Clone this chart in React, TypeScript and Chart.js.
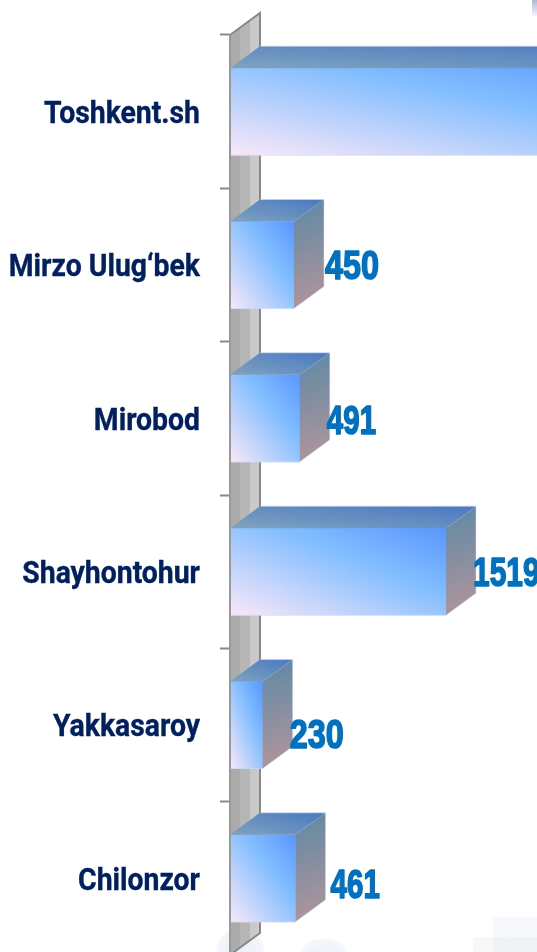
import React, { useEffect, useRef } from "react";
import { Chart, registerables } from "chart.js";

Chart.register(...registerables);

const categories = ["Toshkent.sh", "Mirzo Ulug‘bek", "Mirobod", "Shayhontohur", "Yakkasaroy", "Chilonzor"];
const values = [3151, 450, 491, 1519, 230, 461];

// Layout only: nudges and horizontal squeeze of the value labels relative to the right end of each 3D bar
const labelDx = [1, 1, -3, -3, -3, 5];
const labelDy = [0, 3, 4, 3, 12, 8];
const labelSqueeze = [0.76, 0.79, 0.72, 0.73, 0.79, 0.72];

const DEPTH_X = 30;
const DEPTH_Y = 22;
const BAR_H = 87;

function diag(ctx: CanvasRenderingContext2D, x: number, y: number, w: number, h: number, stops: [number, string][]) {
  const cx = x + w / 2;
  const cy = y + h / 2;
  const n = Math.hypot(w, h);
  const nx = h / n;
  const ny = -w / n;
  const d = (w * h) / n;
  const g = ctx.createLinearGradient(cx - nx * d, cy - ny * d, cx + nx * d, cy + ny * d);
  stops.forEach(([o, c]) => g.addColorStop(o, c));
  return g;
}

const frontStops: [number, string][] = [[0, "#FAE8F8"], [0.62, "#80BDFF"], [1, "#5A96FF"]];
const topStops: [number, string][] = [[0, "#7FA3BF"], [1, "#4A78C2"]];

const wall3d = {
  id: "wall3d",
  beforeDraw(chart: any) {
    const { ctx, chartArea: a } = chart;
    const l = a.left;
    const b = a.bottom;
    const t = a.top;
    const poly = (x0: number, x1: number, color: string) => {
      const f0 = (x0 - l) / DEPTH_X;
      const f1 = (x1 - l) / DEPTH_X;
      ctx.fillStyle = color;
      ctx.beginPath();
      ctx.moveTo(x0, t - f0 * DEPTH_Y);
      ctx.lineTo(x1, t - f1 * DEPTH_Y);
      ctx.lineTo(x1, b - f1 * DEPTH_Y);
      ctx.lineTo(x0, b - f0 * DEPTH_Y);
      ctx.closePath();
      ctx.fill();
    };
    ctx.save();
    poly(l, l + 10, "rgba(166,166,166,0.95)");
    poly(l + 10, l + 20, "rgba(178,178,178,0.95)");
    poly(l + 20, l + DEPTH_X, "rgba(198,198,198,0.95)");
    ctx.strokeStyle = "#888888";
    ctx.lineWidth = 2;
    ctx.beginPath();
    ctx.moveTo(l, t);
    ctx.lineTo(l + DEPTH_X, t - DEPTH_Y);
    ctx.lineTo(l + DEPTH_X, b - DEPTH_Y);
    ctx.lineTo(l, b);
    ctx.stroke();
    ctx.restore();
  },
};

const bars3d = {
  id: "bars3d",
  afterDatasetsDraw(chart: any) {
    const { ctx, chartArea } = chart;
    const meta = chart.getDatasetMeta(0);
    ctx.save();
    meta.data.forEach((bar: any) => {
      const x0 = bar.base;
      const x1 = bar.x;
      const yTop = bar.y - BAR_H / 2;
      const yBot = bar.y + BAR_H / 2;
      // top face
      ctx.fillStyle = diag(ctx, x0, yTop - DEPTH_Y, x1 - x0 + DEPTH_X, DEPTH_Y, topStops);
      ctx.beginPath();
      ctx.moveTo(x0, yTop);
      ctx.lineTo(x0 + DEPTH_X, yTop - DEPTH_Y);
      ctx.lineTo(x1 + DEPTH_X, yTop - DEPTH_Y);
      ctx.lineTo(x1, yTop);
      ctx.closePath();
      ctx.fill();
      // side face
      const sg = ctx.createLinearGradient(x1, yTop - DEPTH_Y / 2, x1 + DEPTH_X, yBot - DEPTH_Y / 2);
      sg.addColorStop(0, "#668AA4");
      sg.addColorStop(1, "#AC949C");
      ctx.fillStyle = sg;
      ctx.beginPath();
      ctx.moveTo(x1, yTop);
      ctx.lineTo(x1 + DEPTH_X, yTop - DEPTH_Y);
      ctx.lineTo(x1 + DEPTH_X, yBot - DEPTH_Y);
      ctx.lineTo(x1, yBot);
      ctx.closePath();
      ctx.fill();
      // pale outline
      ctx.strokeStyle = "rgba(205,222,245,0.55)";
      ctx.lineWidth = 1;
      ctx.beginPath();
      ctx.moveTo(x0 + DEPTH_X, yTop - DEPTH_Y);
      ctx.lineTo(x1 + DEPTH_X, yTop - DEPTH_Y);
      ctx.lineTo(x1 + DEPTH_X, yBot - DEPTH_Y);
      ctx.lineTo(x1, yBot);
      ctx.lineTo(x0, yBot);
      ctx.stroke();
    });
    // axis line stays in front of the bar bases
    ctx.strokeStyle = "#999999";
    ctx.lineWidth = 2;
    ctx.beginPath();
    ctx.moveTo(chartArea.left, chartArea.top);
    ctx.lineTo(chartArea.left, chartArea.bottom);
    ctx.stroke();
    ctx.restore();
  },
};

const textLabels = {
  id: "textLabels",
  afterDraw(chart: any) {
    const { ctx, scales } = chart;
    const meta = chart.getDatasetMeta(0);
    ctx.save();
    // category labels, condensed horizontally
    categories.forEach((c, i) => {
      const y = scales.y.getPixelForValue(i);
      ctx.save();
      ctx.translate(200, y + 3.5);
      ctx.scale(0.9, 1);
      ctx.font = "700 31.5px Roboto";
      ctx.textAlign = "right";
      ctx.textBaseline = "middle";
      ctx.fillStyle = "#002060";
      ctx.strokeStyle = "#002060";
      ctx.lineWidth = 0.35;
      ctx.strokeText(c, 0, 0);
      ctx.fillText(c, 0, 0);
      ctx.restore();
    });
    // value labels
    values.forEach((v, i) => {
      const bar = meta.data[i];
      ctx.save();
      ctx.translate(bar.x + DEPTH_X + labelDx[i], bar.y + labelDy[i]);
      ctx.scale(labelSqueeze[i], 1);
      ctx.font = "700 41px 'Liberation Sans'";
      ctx.textAlign = "left";
      ctx.textBaseline = "middle";
      ctx.fillStyle = "#0070C0";
      ctx.strokeStyle = "#0070C0";
      ctx.lineWidth = 1.6;
      ctx.lineJoin = "round";
      ctx.strokeText(String(v), 0, 0);
      ctx.fillText(String(v), 0, 0);
      ctx.restore();
    });
    ctx.restore();
  },
};

const backdrop = [
  "radial-gradient(circle 25px at 240px 952px, rgba(190,205,230,0.3), rgba(190,205,230,0.2) 90%, transparent 100%)",
  "radial-gradient(ellipse 23px 14px at 324px 952px, rgba(195,210,235,0.28), rgba(195,210,235,0.18) 90%, transparent 100%)",
  "linear-gradient(rgba(200,210,225,0.16), rgba(200,210,225,0.16)) 493px 917px / 44px 35px no-repeat",
  "linear-gradient(rgba(205,205,205,0.14), rgba(205,205,205,0.14)) 473px 937px / 64px 15px no-repeat",
  "linear-gradient(rgba(150,165,200,0.8), rgba(220,225,240,0.3)) 532px 0px / 5px 16px no-repeat",
  "#ffffff",
].join(", ");

export default function App() {
  const ref = useRef<HTMLCanvasElement | null>(null);

  useEffect(() => {
    if (!ref.current) return;
    const chart = new Chart(ref.current, {
      type: "bar",
      data: {
        labels: categories,
        datasets: [
          {
            data: values,
            barThickness: BAR_H,
            borderWidth: 0,
            backgroundColor: (c: any) => {
              const ch = c.chart;
              if (!ch.chartArea || c.dataIndex === undefined) return "#80BDFF";
              const x0 = ch.scales.x.getPixelForValue(0);
              const x1 = ch.scales.x.getPixelForValue(values[c.dataIndex]);
              const y = ch.scales.y.getPixelForValue(c.dataIndex);
              return diag(ch.ctx, x0, y - BAR_H / 2, x1 - x0, BAR_H, frontStops);
            },
          },
        ],
      },
      options: {
        indexAxis: "y",
        animation: false,
        responsive: false,
        layout: { padding: { top: 35, bottom: 5, left: 0, right: 0 } },
        plugins: { legend: { display: false }, tooltip: { enabled: false } },
        scales: {
          x: { display: false, min: 0, max: 2159 },
          y: {
            afterFit: (s: any) => {
              s.width = 230;
            },
            ticks: { display: false },
            border: { display: true, color: "#888888", width: 2 },
            grid: {
              offset: true,
              drawOnChartArea: false,
              drawTicks: true,
              tickLength: 10,
              tickColor: "#888888",
              tickWidth: 2,
            },
          },
        },
      },
      plugins: [wall3d, bars3d, textLabels],
    } as any);
    return () => chart.destroy();
  }, []);

  return (
    <div style={{ position: "absolute", left: 0, top: 0, width: 537, height: 952, overflow: "hidden", background: backdrop }}>
      <canvas ref={ref} width={537} height={960} style={{ display: "block" }} />
    </div>
  );
}
